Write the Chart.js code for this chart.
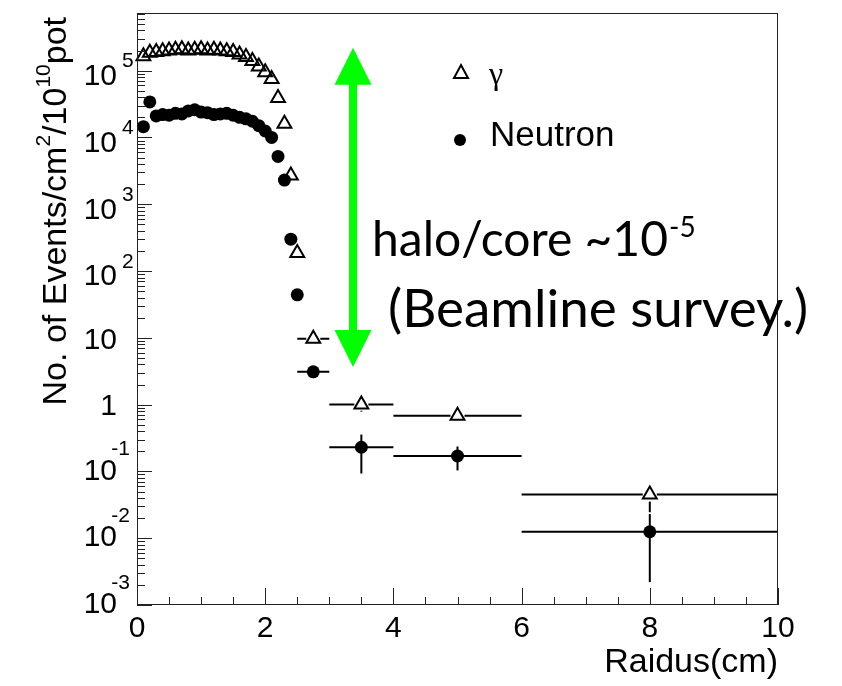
<!DOCTYPE html>
<html>
<head>
<meta charset="utf-8">
<script src="https://cdn.jsdelivr.net/npm/chart.js@4.4.1/dist/chart.umd.min.js"></script>
<style>
html, body { margin: 0; padding: 0; background: #fff; }
#wrap { width: 842px; height: 686px; position: relative; }
</style>
</head>
<body>
<div id="wrap"><canvas id="grafico"></canvas></div>
<script>
// Raio (cm) de cada bin
const raio = [0.1, 0.2, 0.3, 0.4, 0.5, 0.6, 0.7, 0.8, 0.9, 1.0,
              1.1, 1.2, 1.3, 1.4, 1.5, 1.6, 1.7, 1.8, 1.9, 2.0,
              2.1, 2.2, 2.3, 2.4, 2.5, 2.75, 3.5, 5, 8];
// meia largura dos bins largos (barra horizontal)
const meiaLargura = [0, 0, 0, 0, 0, 0, 0, 0, 0, 0,
                     0, 0, 0, 0, 0, 0, 0, 0, 0, 0,
                     0, 0, 0, 0, 0, 0.25, 0.5, 1, 2];

// Eventos/cm2/10^10 pot
const gama = [1.65e5, 1.85e5, 1.9e5, 1.95e5, 2.0e5, 2.05e5, 2.1e5, 2.0e5, 2.05e5, 2.1e5,
              2.0e5, 2.05e5, 2.0e5, 1.95e5, 1.9e5, 1.75e5, 1.6e5, 1.4e5, 1.15e5, 9.5e4,
              7.5e4, 3.9e4, 1.6e4, 2.7e3, 186, 9.7, 1.0, 0.68, 0.045];
const neutron = [1.45e4, 3.4e4, 2.1e4, 2.2e4, 2.15e4, 2.3e4, 2.25e4, 2.5e4, 2.6e4, 2.4e4,
                 2.35e4, 2.2e4, 2.25e4, 2.3e4, 2.15e4, 2.0e4, 1.9e4, 1.75e4, 1.5e4, 1.25e4,
                 1.0e4, 5.2e3, 2.3e3, 300, 44, 3.1, 0.23, 0.17, 0.0125];

// barras de erro verticais (null = escondida pelo marcador)
const gamaErrBaixo = [null, null, null, null, null, null, null, null, null, null,
                      null, null, null, null, null, null, null, null, null, null,
                      null, null, null, null, null, null, 0.81, null, 0.0245];
const gamaErrAlto = gamaErrBaixo.map(() => null);
const neutronErrBaixo = [null, null, null, null, null, null, null, null, null, null,
                         null, null, null, null, null, null, null, null, null, null,
                         null, null, null, null, null, 2.5, 0.093, 0.1035, 0.0022];
const neutronErrAlto = [null, null, null, null, null, null, null, null, null, null,
                        null, null, null, null, null, null, null, null, null, null,
                        null, null, null, null, null, null, 0.356, 0.236, 0.023];

// seta verde (em unidades do gráfico)
const setaX = 3.37;
const setaTopo = 2.2e5;
const setaBase = 3.65;

const fonteSans = '"Liberation Sans", Arial, sans-serif';
const fonteNota = 'Lato, "Open Sans", sans-serif';

// desenha texto com partes sobrescritas
function textoComposto(ctx, partes, x, y, alinhar) {
    let largura = 0;
    partes.forEach(p => { ctx.font = p.f; largura += ctx.measureText(p.t).width + (p.gap || 0); });
    let cx = alinhar === 'right' ? x - largura : x;
    ctx.textAlign = 'left';
    partes.forEach(p => {
        ctx.font = p.f;
        cx += (p.gap || 0);
        ctx.fillText(p.t, cx, y + (p.dy || 0));
        cx += ctx.measureText(p.t).width;
    });
}

const desenhoRoot = {
    id: 'desenhoRoot',
    beforeDatasetsDraw(chart) {
        const ctx = chart.ctx;
        const xs = chart.scales.x, ys = chart.scales.y;
        ctx.save();
        ctx.strokeStyle = '#000';
        ctx.lineWidth = 2;
        const serie = (vals, baixo, alto, gap) => {
            vals.forEach((v, i) => {
                const px = xs.getPixelForValue(raio[i]);
                const py = ys.getPixelForValue(v);
                if (meiaLargura[i] > 0) {
                    const x0 = xs.getPixelForValue(raio[i] - meiaLargura[i]);
                    const x1 = xs.getPixelForValue(raio[i] + meiaLargura[i]);
                    ctx.beginPath();
                    ctx.moveTo(x0, py); ctx.lineTo(px - gap, py);
                    ctx.moveTo(px + gap, py); ctx.lineTo(x1, py);
                    ctx.stroke();
                }
                if (baixo[i] !== null) {
                    ctx.beginPath();
                    ctx.moveTo(px, py + gap); ctx.lineTo(px, ys.getPixelForValue(baixo[i]));
                    ctx.stroke();
                }
                if (alto[i] !== null) {
                    ctx.beginPath();
                    ctx.moveTo(px, py - gap); ctx.lineTo(px, ys.getPixelForValue(alto[i]));
                    ctx.stroke();
                }
            });
        };
        serie(gama, gamaErrBaixo, gamaErrAlto, 7);
        serie(neutron, neutronErrBaixo, neutronErrAlto, 4);
        ctx.restore();
    },
    afterDraw(chart) {
        const ctx = chart.ctx;
        const a = chart.chartArea;
        const xs = chart.scales.x, ys = chart.scales.y;
        ctx.save();

        // moldura
        ctx.strokeStyle = '#222';
        ctx.lineWidth = 1;
        ctx.strokeRect(a.left + 0.5, a.top + 0.5, a.right - a.left - 1, a.bottom - a.top - 1);

        // marcas do eixo y (log)
        ctx.beginPath();
        for (let e = -3; e <= 5; e++) {
            for (let k = 1; k <= 9; k++) {
                const v = k * Math.pow(10, e);
                if (v < ys.min || v > ys.max) continue;
                const py = Math.round(ys.getPixelForValue(v)) + 0.5;
                ctx.moveTo(a.left, py);
                ctx.lineTo(a.left + (k === 1 ? 15 : 8), py);
            }
        }
        // marcas do eixo x
        for (let i = 0; i <= 20; i++) {
            const px = Math.round(xs.getPixelForValue(i * 0.5)) + 0.5;
            ctx.moveTo(px, a.bottom);
            ctx.lineTo(px, a.bottom - (i % 4 === 0 ? 17 : 8));
        }
        ctx.stroke();

        // rótulos do eixo y
        ctx.fillStyle = '#000';
        ctx.textBaseline = 'middle';
        const fTick = '30px ' + fonteSans;
        const fExp = '21px ' + fonteSans;
        for (let e = -3; e <= 5; e++) {
            const py = ys.getPixelForValue(Math.pow(10, e));
            ctx.font = fTick;
            ctx.textAlign = 'right';
            if (e === 0) { ctx.fillText('1', 117, py + 2); continue; }
            if (e === 1) { ctx.fillText('10', 117, py + 3); continue; }
            if (e > 0) {
                ctx.fillText('10', 117, py + 6);
                ctx.font = fExp; ctx.textAlign = 'left';
                ctx.fillText(String(e), 122, py - 9);
            } else {
                ctx.fillText('10', 117, py);
                ctx.font = fExp; ctx.textAlign = 'right';
                ctx.fillText(String(e), 130, py - 22);
            }
        }

        // rótulos do eixo x
        ctx.font = fTick;
        ctx.textAlign = 'center';
        for (let v = 0; v <= 10; v += 2) {
            ctx.fillText(String(v), xs.getPixelForValue(v), 629);
        }

        // título do eixo x
        ctx.font = '34px ' + fonteSans;
        ctx.textAlign = 'right';
        ctx.fillText('Raidus(cm)', a.right, 663);

        // título do eixo y (rodado)
        ctx.save();
        ctx.translate(57, 17);
        ctx.rotate(-Math.PI / 2);
        ctx.textBaseline = 'middle';
        const fT = '34px ' + fonteSans, fS = '21px ' + fonteSans;
        textoComposto(ctx, [
            { t: 'No. of Events/cm', f: fT },
            { t: '2', f: fS, dy: -13 },
            { t: '/10', f: fT },
            { t: '10', f: fS, dy: -13 },
            { t: 'pot', f: fT }
        ], 0, 0, 'right');
        ctx.restore();

        // legenda
        ctx.strokeStyle = '#000';
        ctx.lineWidth = 2;
        ctx.beginPath();
        ctx.moveTo(461, 65);
        ctx.lineTo(468, 78);
        ctx.lineTo(454, 78);
        ctx.closePath();
        ctx.stroke();
        ctx.beginPath();
        ctx.arc(460, 140, 6, 0, Math.PI * 2);
        ctx.fill();
        ctx.textAlign = 'left';
        ctx.textBaseline = 'middle';
        ctx.font = '32px "Liberation Serif", serif';
        ctx.fillText('γ', 489, 76);
        ctx.font = '35px ' + fonteSans;
        ctx.fillText('Neutron', 490, 136);

        // seta verde dupla
        const sx = xs.getPixelForValue(setaX);
        const sTopo = ys.getPixelForValue(setaTopo);
        const sBase = ys.getPixelForValue(setaBase);
        const cab = 37, meia = 18.5, haste = 4;
        ctx.fillStyle = '#00ff00';
        ctx.beginPath();
        ctx.moveTo(sx, sTopo);
        ctx.lineTo(sx + meia, sTopo + cab);
        ctx.lineTo(sx + haste, sTopo + cab);
        ctx.lineTo(sx + haste, sBase - cab);
        ctx.lineTo(sx + meia, sBase - cab);
        ctx.lineTo(sx, sBase);
        ctx.lineTo(sx - meia, sBase - cab);
        ctx.lineTo(sx - haste, sBase - cab);
        ctx.lineTo(sx - haste, sTopo + cab);
        ctx.lineTo(sx - meia, sTopo + cab);
        ctx.closePath();
        ctx.fill();

        // nota
        ctx.fillStyle = '#000';
        ctx.textBaseline = 'alphabetic';
        textoComposto(ctx, [
            { t: 'halo/core ~10', f: '48px ' + fonteNota },
            { t: '-5', f: '28px ' + fonteNota, dy: -19, gap: 1 }
        ], 372, 256, 'left');
        ctx.font = '53px ' + fonteNota;
        ctx.textAlign = 'left';
        ctx.fillText('(Beamline survey.)', 388, 327);

        ctx.restore();
    }
};

const ctx = document.getElementById('grafico').getContext('2d');
const grafico = new Chart(ctx, {
    type: 'scatter',
    data: {
        datasets: [
            {
                label: 'γ',
                data: raio.map((r, i) => ({ x: r, y: gama[i] })),
                pointStyle: 'triangle',
                pointRadius: 8,
                borderWidth: 2,
                borderColor: '#000',
                backgroundColor: 'rgba(0,0,0,0)',
                clip: false
            },
            {
                label: 'Neutron',
                data: raio.map((r, i) => ({ x: r, y: neutron[i] })),
                pointStyle: 'circle',
                pointRadius: 6.5,
                borderWidth: 0,
                borderColor: '#000',
                backgroundColor: '#000',
                clip: false
            }
        ]
    },
    options: {
        responsive: true,
        maintainAspectRatio: false,
        animation: false,
        events: [],
        layout: { padding: { left: 137, right: 64, top: 13, bottom: 81 } },
        plugins: { legend: { display: false }, tooltip: { enabled: false } },
        scales: {
            x: { type: 'linear', min: 0, max: 10, display: false },
            y: { type: 'logarithmic', min: 1e-3, max: 7.3e5, display: false }
        }
    },
    plugins: [desenhoRoot]
});
</script>
</body>
</html>
